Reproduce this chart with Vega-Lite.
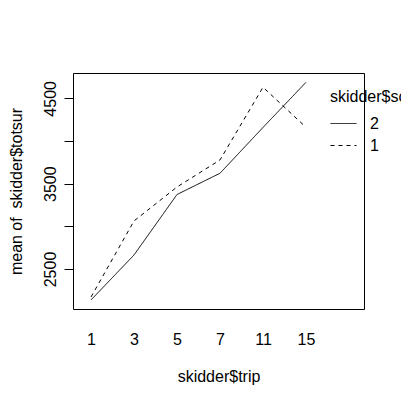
{
  "$schema": "https://vega.github.io/schema/vega-lite/v6.json",
  "width": 291,
  "height": 236,
  "autosize": {"type": "none"},
  "padding": {"left": 73, "top": 73, "right": 37, "bottom": 91},
  "background": "white",
  "config": {
    "view": {"stroke": "black", "strokeWidth": 1},
    "font": "Liberation Sans"
  },
  "data": {
    "values": [
      {"trip": "1", "sc": "2", "mean": 2137},
      {"trip": "3", "sc": "2", "mean": 2664},
      {"trip": "5", "sc": "2", "mean": 3373},
      {"trip": "7", "sc": "2", "mean": 3622},
      {"trip": "11", "sc": "2", "mean": 4159},
      {"trip": "15", "sc": "2", "mean": 4688},
      {"trip": "1", "sc": "1", "mean": 2172},
      {"trip": "3", "sc": "1", "mean": 3063},
      {"trip": "5", "sc": "1", "mean": 3461},
      {"trip": "7", "sc": "1", "mean": 3778},
      {"trip": "11", "sc": "1", "mean": 4630},
      {"trip": "15", "sc": "1", "mean": 4161}
    ]
  },
  "mark": {"type": "line", "strokeWidth": 1, "color": "black"},
  "encoding": {
    "x": {
      "field": "trip",
      "type": "ordinal",
      "sort": ["1", "3", "5", "7", "11", "15"],
      "scale": {"type": "point", "padding": 0.884, "align": 0.237},
      "axis": {
        "title": "skidder$trip",
        "labelAngle": 0,
        "ticks": false,
        "tickSize": 0,
        "domain": false,
        "grid": false,
        "labelFontSize": 16,
        "labelColor": "black",
        "labelBaseline": "top",
        "labelPadding": 22,
        "titleFontSize": 16,
        "titleFontWeight": "normal",
        "titleColor": "black",
        "titleY": 72,
        "titleBaseline": "alphabetic"
      }
    },
    "y": {
      "field": "mean",
      "type": "quantitative",
      "scale": {"domain": [2031, 4797], "nice": false, "zero": false},
      "axis": {
        "title": "mean of\u00a0 skidder$totsur",
        "values": [2500, 3000, 3500, 4000, 4500],
        "labelExpr": "datum.value % 1000 == 500 ? '' + datum.value : ''",
        "grid": false,
        "domain": false,
        "tickSize": 9,
        "tickColor": "black",
        "labelAngle": 270,
        "labelAlign": "center",
        "labelBaseline": "bottom",
        "labelPadding": 6,
        "labelFontSize": 16,
        "labelColor": "black",
        "titleFontSize": 16,
        "titleFontWeight": "normal",
        "titleColor": "black",
        "titleAngle": 270,
        "titleX": -52,
        "titleY": 118,
        "titleAlign": "center",
        "titleBaseline": "alphabetic"
      }
    },
    "strokeDash": {
      "field": "sc",
      "type": "nominal",
      "sort": ["2", "1"],
      "scale": {"domain": ["2", "1"], "range": [[1, 0], [4, 4]]},
      "legend": {
        "orient": "none",
        "legendX": 257,
        "legendY": 16,
        "padding": 0,
        "title": "skidder$sc",
        "titleFontSize": 16,
        "titleFontWeight": "normal",
        "titleColor": "black",
        "titlePadding": 5,
        "labelFontSize": 16,
        "labelColor": "black",
        "labelOffset": 13,
        "symbolType": "stroke",
        "symbolSize": 676,
        "symbolStrokeWidth": 1,
        "symbolStrokeColor": "black",
        "rowPadding": -7
      }
    }
  }
}
